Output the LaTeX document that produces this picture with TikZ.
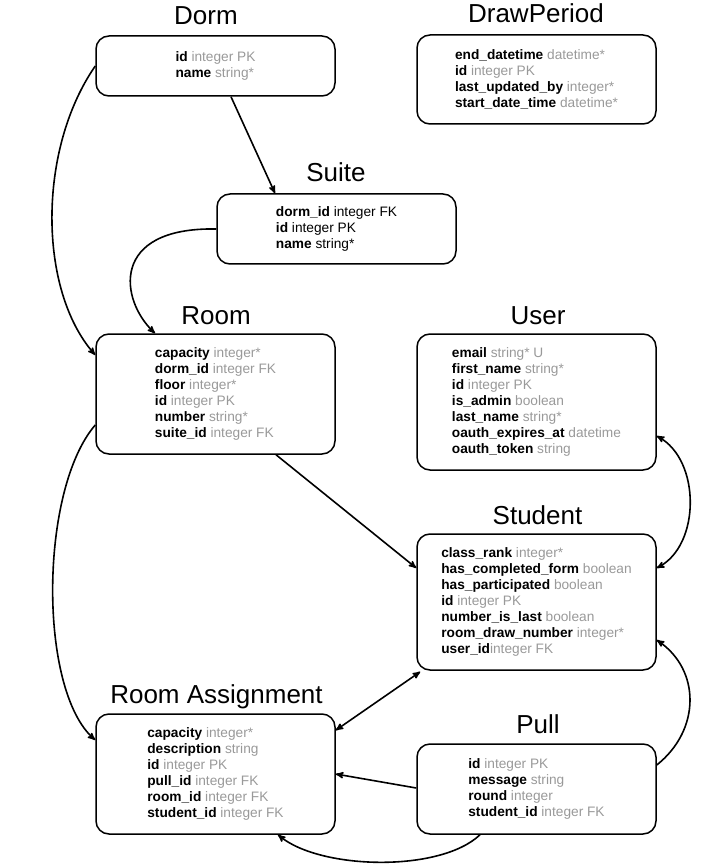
\documentclass[tikz,border=0pt]{standalone}
\usepackage{fontspec}
\setmainfont{Liberation Sans}
\usepackage{xcolor}
\usepackage{tikz}
\usetikzlibrary{arrows}

\definecolor{typegray}{RGB}{153,153,153}
\newcommand{\entfield}[2]{\textbf{#1} {\color{typegray}#2}}

\begin{document}
\begin{tikzpicture}
  [x=1pt,y=-1pt,>=stealth',line width=1.6pt,
  entity/.style={draw,rounded corners=13pt,line width=1.5pt,align=left,inner sep=0pt,
    minimum width=239pt,font=\fontsize{13.7}{16}\selectfont},
  entity title/.style={anchor=base,inner sep=0pt,font=\fontsize{26}{30}\selectfont}]
  \useasboundingbox (0,0) rectangle (717,866);

  \node[entity,minimum height=60pt] (dorm) at 	(215.5,66) {\entfield{id}{integer PK}\\
    \entfield{name}{string*}};
  \node[entity,minimum height=89pt] (drawperiod) at 	(536.5,79.5) {\entfield{end\_datetime}{datetime*}\\
    \entfield{id}{integer PK}\\
    \entfield{last\_updated\_by}{integer*}\\
    \entfield{start\_date\_time}{datetime*}};
  \node[entity,minimum height=70pt] (suite) at 	(336.5,229) {\textbf{dorm\_id} integer FK\\
    \textbf{id} integer PK\\
    \textbf{name} string*};
  \node[entity,minimum height=120pt] (room) at 	(215.5,394) {\entfield{capacity}{integer*}\\
    \entfield{dorm\_id}{integer FK}\\
    \entfield{floor}{integer*}\\
    \entfield{id}{integer PK}\\
    \entfield{number}{string*}\\
    \entfield{suite\_id}{integer FK}};
  \node[entity,minimum height=136pt] (user) at 	(536.5,402) {\entfield{email}{string* U}\\
    \entfield{first\_name}{string*}\\
    \entfield{id}{integer PK}\\
    \entfield{is\_admin}{boolean}\\
    \entfield{last\_name}{string*}\\
    \entfield{oauth\_expires\_at}{datetime}\\
    \entfield{oauth\_token}{string}};
  \node[entity,minimum height=136pt] (student) at 	(536.5,602) {\entfield{class\_rank}{integer*}\\
    \entfield{has\_completed\_form}{boolean}\\
    \entfield{has\_participated}{boolean}\\
    \entfield{id}{integer PK}\\
    \entfield{number\_is\_last}{boolean}\\
    \entfield{room\_draw\_number}{integer*}\\
    \textbf{user\_id}{\color{typegray}integer FK}};
  \node[entity,minimum height=120pt] (roomassign) at 	(215.5,774) {\entfield{capacity}{integer*}\\
    \entfield{description}{string}\\
    \entfield{id}{integer PK}\\
    \entfield{pull\_id}{integer FK}\\
    \entfield{room\_id}{integer FK}\\
    \entfield{student\_id}{integer FK}};
  \node[entity,minimum height=90pt] (pull) at 	(536.5,789) {\entfield{id}{integer PK}\\
    \entfield{message}{string}\\
    \entfield{round}{integer}\\
    \entfield{student\_id}{integer FK}};

  % table names
  \node[entity title] (dormtitle) at 		(206,25) {Dorm};
  \node[entity title] (drawperiodtitle) at 	(536,23) {DrawPeriod};
  \node[entity title] (suitetitle) at 		(336,182) {Suite};
  \node[entity title] (roomtitle) at 		(216,324) {Room};
  \node[entity title] (usertitle) at 		(538,324) {User};
  \node[entity title] (studenttitle) at 	(537.5,524) {Student};
  \node[entity title] (roomassigntitle) at 	(216.5,703) {Room Assignment};
  \node[entity title] (pulltitle) at 		(538,733) {Pull};

  % relations
  \draw[->] ([xshift=15.5pt]dorm.south) -- ([xshift=-61.5pt]suite.north);
  \draw[->] (dorm.west) .. controls +(-58,84) and +(-57,-65) .. ([yshift=39pt]room.west);
  \draw[->] (suite.west) .. controls +(-107,-2) and +(-35,-33) .. ([xshift=-60.5pt]room.north);
  \draw[->] ([xshift=60.5pt]room.south) -- ([yshift=34pt]student.west);
  \draw[->] ([yshift=-31pt]room.west) .. controls +(-56,65) and +(-57,-50) .. ([yshift=34pt]roomassign.west);
  \draw[<->] ([yshift=-34pt]user.east) .. controls +(44,24) and +(44,-23) .. ([yshift=34pt]student.east);
  \draw[<->] ([xshift=4pt,yshift=-1pt]student.south west) -- ([yshift=-17pt]roomassign.north east);
  \draw[->] ([yshift=1pt]pull.west) -- (roomassign.east);
  \draw[->] ([yshift=24pt]pull.east) .. controls +(44,-35) and +(44,30) .. ([yshift=-38pt]student.east);
  \draw[->] ([xshift=-56.5pt]pull.south) .. controls +(-40,38) and +(42,35) .. ([xshift=62.5pt]roomassign.south);

\end{tikzpicture}
\end{document}
